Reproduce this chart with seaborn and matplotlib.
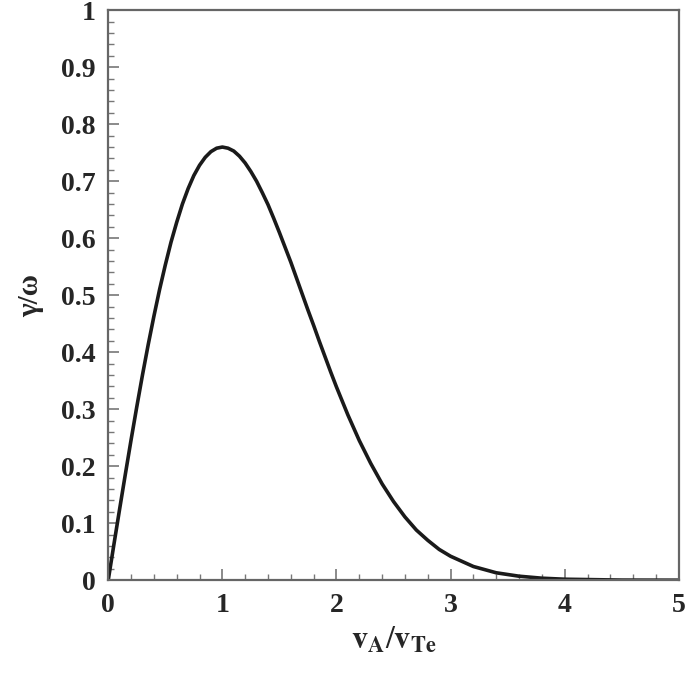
import numpy as np
import seaborn as sns
import matplotlib.pyplot as plt
from matplotlib.ticker import MultipleLocator

# values
v_ratio = [0.0, 0.05, 0.1, 0.15, 0.2, 0.25, 0.3, 0.35, 0.4, 0.45, 0.5,
           0.55, 0.6, 0.65, 0.7, 0.75, 0.8, 0.85, 0.9, 0.95, 1.0,
           1.05, 1.1, 1.15, 1.2, 1.25, 1.3, 1.35, 1.4, 1.45, 1.5,
           1.55, 1.6, 1.65, 1.7, 1.75, 1.8, 1.85, 1.9, 1.95, 2.0,
           2.1, 2.2, 2.3, 2.4, 2.5, 2.6, 2.7, 2.8, 2.9, 3.0,
           3.2, 3.4, 3.6, 3.8, 4.0, 4.5, 5.0]
growth = [0.0, 0.063, 0.125, 0.186, 0.246, 0.304, 0.360, 0.413, 0.463, 0.510, 0.553,
          0.593, 0.628, 0.660, 0.687, 0.710, 0.728, 0.742, 0.752, 0.758, 0.760,
          0.758, 0.753, 0.744, 0.732, 0.717, 0.700, 0.680, 0.659, 0.635, 0.610,
          0.584, 0.558, 0.530, 0.502, 0.474, 0.447, 0.419, 0.392, 0.365, 0.339,
          0.290, 0.245, 0.205, 0.169, 0.138, 0.111, 0.088, 0.070, 0.054, 0.042,
          0.024, 0.013, 0.007, 0.0035, 0.0017, 0.0002, 0.0]

sns.set_style("ticks")
plt.rcParams['font.family'] = ['Liberation Serif', 'DejaVu Serif']
plt.rcParams['mathtext.fontset'] = 'stix'

fig = plt.figure(figsize=(6.85, 6.85), dpi=100)
ax = fig.add_axes([0.158, 0.153, 0.833, 0.832])

sns.lineplot(x=v_ratio, y=growth, ax=ax, color='#1a1a1a', linewidth=2.6)

ax.set_xlim(0, 5)
ax.set_ylim(0, 1)
ax.xaxis.set_major_locator(MultipleLocator(1))
ax.xaxis.set_minor_locator(MultipleLocator(0.2))
ax.yaxis.set_minor_locator(MultipleLocator(0.02))
ax.set_yticks(np.arange(0, 1.01, 0.1))
ax.set_yticklabels(['0', '0.1', '0.2', '0.3', '0.4', '0.5', '0.6', '0.7', '0.8', '0.9', '1'])

ax.tick_params(which='major', direction='in', length=8, width=1.2, color='#777777',
               labelsize=20, pad=9)
ax.tick_params(which='minor', direction='in', length=4, width=1.0, color='#777777')
for lab in ax.get_xticklabels() + ax.get_yticklabels():
    lab.set_fontweight('bold')

for s in ax.spines.values():
    s.set_color('#666666')
    s.set_linewidth(1.6)

ax.set_xlabel(r'$\mathbf{v}_{\mathbf{A}}/\mathbf{v}_{\mathbf{Te}}$', fontsize=23, labelpad=6)
ax.set_ylabel('γ/ω', fontsize=21, fontweight='bold', labelpad=12)

fig.savefig('out.png', dpi=100)
